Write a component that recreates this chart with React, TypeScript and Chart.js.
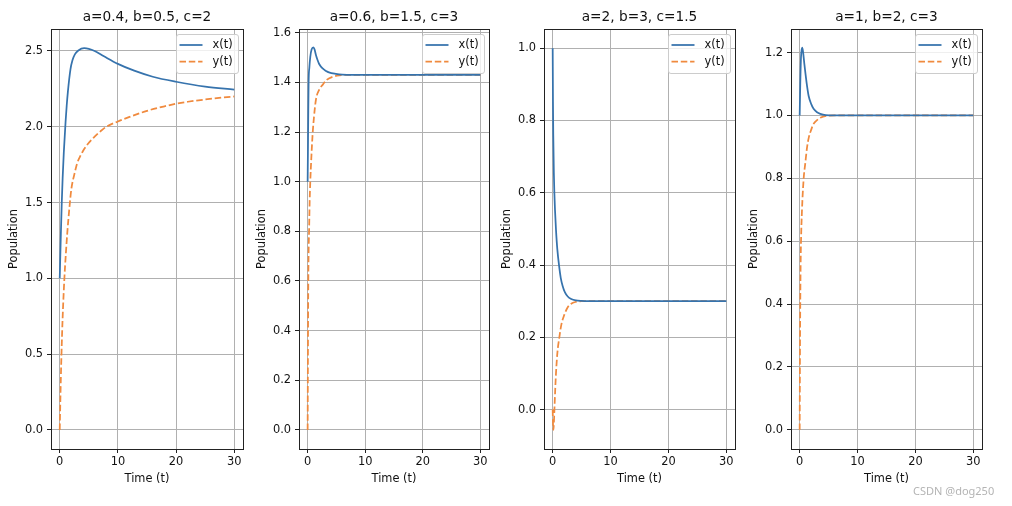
import React, { useEffect, useRef } from 'react';
import { Chart, registerables } from 'chart.js';

Chart.register(...registerables);

// ---------- data ----------
const panelTitles = ['a=0.4, b=0.5, c=2', 'a=0.6, b=1.5, c=3', 'a=2, b=3, c=1.5', 'a=1, b=2, c=3'];
const seriesLabels = ['x(t)', 'y(t)'];
const xAxisTitle = 'Time (t)';
const yAxisTitle = 'Population';
const xTickValues = [0, 10, 20, 30];
const xRange = [-1.5, 31.5];

// panel 1: a=0.4, b=0.5, c=2
const p1TimeX = [0, 0.2, 0.35, 0.5, 0.7, 1.0, 1.2, 1.4, 1.85, 2.2, 2.6, 3.2, 4.2, 5, 6, 7.6, 10, 12.8, 16, 20, 25, 30];
const p1X = [1.0, 1.3, 1.5, 1.66, 1.83, 2.03, 2.14, 2.23, 2.38, 2.44, 2.478, 2.503, 2.518, 2.514, 2.5, 2.465, 2.415, 2.37, 2.33, 2.297, 2.265, 2.245];
const p1TimeY = [0, 0.1, 0.2, 0.3, 0.5, 0.8, 1.0, 1.3, 1.7, 2.0, 2.6, 3.0, 3.45, 4.0, 4.9, 6, 7, 8, 10, 12, 15, 18, 20, 22, 25, 28, 30];
const p1Y = [0, 0.18, 0.35, 0.5, 0.74, 1.0, 1.13, 1.3, 1.48, 1.59, 1.7, 1.76, 1.8, 1.84, 1.89, 1.935, 1.97, 2.0, 2.035, 2.065, 2.105, 2.135, 2.152, 2.165, 2.18, 2.193, 2.2];

// panel 2: a=0.6, b=1.5, c=3
const p2TimeX = [0, 0.05, 0.1, 0.17, 0.3, 0.46, 0.7, 1.0, 1.2, 1.44, 1.72, 2.0, 2.6, 3.2, 3.7, 4.9, 6, 8, 10, 15, 20, 25, 30];
const p2X = [1.0, 1.12, 1.25, 1.4, 1.46, 1.503, 1.533, 1.541, 1.533, 1.51, 1.49, 1.474, 1.456, 1.446, 1.44, 1.434, 1.431, 1.43, 1.43, 1.43, 1.43, 1.43, 1.43];
const p2TimeY = [0, 0.05, 0.1, 0.17, 0.25, 0.35, 0.46, 0.65, 0.86, 1.1, 1.44, 2.0, 2.6, 3.3, 4.3, 5.5, 7, 10, 15, 20, 25, 30];
const p2Y = [0, 0.3, 0.55, 0.72, 0.8, 0.92, 1.0, 1.1, 1.19, 1.26, 1.33, 1.37, 1.39, 1.41, 1.422, 1.428, 1.43, 1.43, 1.43, 1.43, 1.43, 1.43];

// panel 3: a=2, b=3, c=1.5
const p3TimeX = [0, 0.05, 0.1, 0.2, 0.29, 0.4, 0.57, 0.8, 1.15, 1.4, 1.72, 2.1, 2.6, 3.2, 4.0, 5, 6, 8, 10, 15, 20, 25, 30];
const p3X = [1.0, 0.852, 0.761, 0.656, 0.6, 0.552, 0.498, 0.444, 0.392, 0.364, 0.342, 0.325, 0.313, 0.306, 0.302, 0.3005, 0.3, 0.3, 0.3, 0.3, 0.3, 0.3, 0.3];
const p3TimeY = [0, 0.05, 0.12, 0.2, 0.3, 0.45, 0.57, 0.8, 1.15, 1.5, 2.0, 2.6, 3.2, 4.0, 5, 6, 8, 10, 15, 20, 25, 30];
const p3Y = [0, -0.035, -0.056, -0.04, 0.0, 0.06, 0.1, 0.155, 0.2, 0.235, 0.262, 0.283, 0.293, 0.298, 0.3, 0.3, 0.3, 0.3, 0.3, 0.3, 0.3, 0.3];

// panel 4: a=1, b=2, c=3
const p4TimeX = [0, 0.05, 0.1, 0.15, 0.23, 0.35, 0.45, 0.6, 0.8, 1.0, 1.3, 1.55, 2.0, 2.4, 3.0, 3.56, 4.5, 6, 10, 15, 20, 25, 30];
const p4X = [1.0, 1.05, 1.1, 1.14, 1.186, 1.21, 1.216, 1.2, 1.165, 1.133, 1.09, 1.062, 1.036, 1.021, 1.01, 1.005, 1.001, 1.0, 1.0, 1.0, 1.0, 1.0, 1.0];
const p4TimeY = [0, 0.03, 0.06, 0.1, 0.16, 0.23, 0.4, 0.69, 0.98, 1.25, 1.55, 2.0, 2.4, 3.0, 3.56, 4.7, 6, 10, 15, 20, 25, 30];
const p4Y = [0, 0.15, 0.28, 0.4, 0.52, 0.6, 0.7, 0.8, 0.85, 0.895, 0.928, 0.955, 0.973, 0.985, 0.993, 0.999, 1.0, 1.0, 1.0, 1.0, 1.0, 1.0];

const p1YTicks = [0, 0.5, 1.0, 1.5, 2.0, 2.5];
const p2YTicks = [0, 0.2, 0.4, 0.6, 0.8, 1.0, 1.2, 1.4, 1.6];
const p3YTicks = [0, 0.2, 0.4, 0.6, 0.8, 1.0];
const p4YTicks = [0, 0.2, 0.4, 0.6, 0.8, 1.0, 1.2];
const p1YRange = [-0.126, 2.645];
const p2YRange = [-0.077, 1.615];
const p3YRange = [-0.109, 1.053];
const p4YRange = [-0.061, 1.275];

const panels = [
  { title: panelTitles[0], tx: p1TimeX, x: p1X, ty: p1TimeY, y: p1Y, ticks: p1YTicks, range: p1YRange },
  { title: panelTitles[1], tx: p2TimeX, x: p2X, ty: p2TimeY, y: p2Y, ticks: p2YTicks, range: p2YRange },
  { title: panelTitles[2], tx: p3TimeX, x: p3X, ty: p3TimeY, y: p3Y, ticks: p3YTicks, range: p3YRange },
  { title: panelTitles[3], tx: p4TimeX, x: p4X, ty: p4TimeY, y: p4Y, ticks: p4YTicks, range: p4YRange },
];

// ---------- layout / style ----------
const plotLefts = [51, 299, 544, 791];
const plotWidths = [192, 190, 191, 191];
const Y_AXIS_W = 51;
const RIGHT_PAD = 10;
const CANVAS_H = 489;
const FONT = "'DejaVu Sans', sans-serif";
const BLUE = '#3673ad';
const ORANGE = '#f08a3e';

const framePlugin = {
  id: 'frame',
  afterDatasetsDraw(chart: any) {
    const { ctx, chartArea } = chart;
    const l = Math.round(chartArea.left - 0.5) + 0.5;
    const t = Math.round(chartArea.top - 0.5) + 0.5;
    const r = Math.round(chartArea.right - 0.5) + 0.5;
    const b = Math.round(chartArea.bottom - 0.5) + 0.5;
    ctx.save();
    ctx.strokeStyle = '#222';
    ctx.lineWidth = 1;
    ctx.setLineDash([]);
    ctx.strokeRect(l, t, r - l, b - t);
    ctx.restore();
  },
};

const insideLegendPlugin = {
  id: 'insideLegend',
  afterDraw(chart: any) {
    const { ctx, chartArea } = chart;
    const w = 62;
    const h = 39;
    const x0 = Math.round(chartArea.right - 5.5 - w) + 0.5;
    const y0 = Math.round(chartArea.top + 5) + 0.5;
    ctx.save();
    ctx.beginPath();
    if (ctx.roundRect) ctx.roundRect(x0, y0, w, h, 2.5);
    else ctx.rect(x0, y0, w, h);
    ctx.fillStyle = 'rgba(255,255,255,0.8)';
    ctx.fill();
    ctx.strokeStyle = '#cccccc';
    ctx.lineWidth = 1;
    ctx.stroke();
    chart.data.datasets.forEach((ds: any, i: number) => {
      const yy = y0 + 10.5 + i * 16.7;
      ctx.beginPath();
      ctx.setLineDash(ds.borderDash || []);
      ctx.strokeStyle = ds.borderColor;
      ctx.lineWidth = ds.borderWidth;
      ctx.moveTo(x0 + 3, yy);
      ctx.lineTo(x0 + 26, yy);
      ctx.stroke();
      ctx.setLineDash([]);
      ctx.fillStyle = '#111';
      ctx.font = `11.4px ${FONT}`;
      ctx.textBaseline = 'middle';
      ctx.textAlign = 'left';
      ctx.fillText(ds.label, x0 + 36, yy);
    });
    ctx.restore();
  },
};

function fmt1(v: number) {
  return Number(v).toFixed(1);
}

function Panel({ idx }: { idx: number }) {
  const ref = useRef<HTMLCanvasElement | null>(null);
  const p = panels[idx];
  const width = Y_AXIS_W + plotWidths[idx] + RIGHT_PAD;
  useEffect(() => {
    if (!ref.current) return;
    const tickFont = { family: FONT, size: 11.4 };
    const chart = new Chart(ref.current, {
      type: 'line',
      data: {
        datasets: [
          {
            label: seriesLabels[0],
            data: p.tx.map((t, i) => ({ x: t, y: p.x[i] })),
            borderColor: BLUE,
            backgroundColor: BLUE,
            borderWidth: 1.75,
            pointRadius: 0,
            cubicInterpolationMode: 'monotone',
            fill: false,
          },
          {
            label: seriesLabels[1],
            data: p.ty.map((t, i) => ({ x: t, y: p.y[i] })),
            borderColor: ORANGE,
            backgroundColor: ORANGE,
            borderWidth: 1.75,
            borderDash: [6.5, 2.8],
            pointRadius: 0,
            cubicInterpolationMode: 'monotone',
            fill: false,
          },
        ],
      },
      options: {
        animation: false,
        responsive: false,
        maintainAspectRatio: false,
        events: [],
        layout: { padding: { left: 0, right: RIGHT_PAD, top: 0, bottom: 0 } },
        plugins: {
          legend: { display: false },
          tooltip: { enabled: false },
          title: {
            display: true,
            fullSize: false,
            align: 'center',
            text: p.title,
            color: '#111',
            font: { family: FONT, size: 13.7, weight: 'normal' },
            padding: { top: 9.5, bottom: 3.06 },
          },
        },
        scales: {
          x: {
            type: 'linear',
            min: xRange[0],
            max: xRange[1],
            afterBuildTicks: (s: any) => {
              s.ticks = xTickValues.map((v) => ({ value: v }));
            },
            afterFit: (s: any) => {
              s.height = 40;
            },
            ticks: { font: tickFont, color: '#111', padding: 2, maxRotation: 0, callback: (v: any) => String(v) },
            grid: { color: '#b0b0b0', lineWidth: 1, tickColor: '#222', tickLength: 4, tickWidth: 1 },
            border: { display: false },
            title: { display: true, text: xAxisTitle, color: '#111', font: tickFont, padding: { top: 0, bottom: 3 } },
          },
          y: {
            type: 'linear',
            min: p.range[0],
            max: p.range[1],
            afterBuildTicks: (s: any) => {
              s.ticks = p.ticks.map((v) => ({ value: v }));
            },
            afterFit: (s: any) => {
              s.width = Y_AXIS_W;
            },
            ticks: { font: tickFont, color: '#111', padding: 4, callback: (v: any) => fmt1(v) },
            grid: { color: '#b0b0b0', lineWidth: 1, tickColor: '#222', tickLength: 4, tickWidth: 1 },
            border: { display: false },
            title: { display: true, text: yAxisTitle, color: '#111', font: tickFont, padding: { top: 7, bottom: 0 } },
          },
        },
      } as any,
      plugins: [framePlugin, insideLegendPlugin],
    });
    return () => chart.destroy();
  }, [idx]);
  return (
    <canvas
      ref={ref}
      width={width}
      height={CANVAS_H}
      style={{ position: 'absolute', left: plotLefts[idx] - Y_AXIS_W, top: 0, width, height: CANVAS_H }}
    />
  );
}

export default function App() {
  return (
    <div style={{ position: 'absolute', left: 0, top: 0, width: 1012, height: 506, background: '#fff', overflow: 'hidden' }}>
      {panels.map((_, i) => (
        <Panel key={i} idx={i} />
      ))}
      <div
        style={{
          position: 'absolute',
          left: 913,
          top: 483,
          fontFamily: "'Noto Sans', sans-serif",
          fontSize: 11,
          color: '#b4b4b4',
          whiteSpace: 'nowrap',
        }}
      >
        CSDN @dog250
      </div>
    </div>
  );
}
